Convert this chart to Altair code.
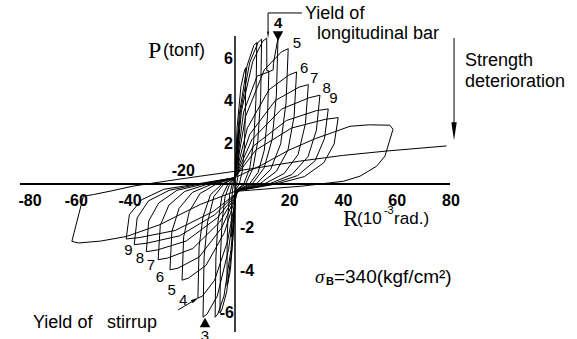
import altair as alt
import pandas as pd

# Load-deformation record: drift angle R (10^-3 rad) vs. shear force P (tonf),
# one list per cycle, each traced in loading order.
loop_01 = [(0, 0), (0.4, 1.3), (0.9, 2.2), (1.3, 2.5), (1.5, 2.6), (1.45, 1.6), (1.3, 0.9), (1.0, 0.3),
           (0.6, 0), (0.1, -0.3), (-0.3, -1.2), (-0.8, -2.1), (-1.2, -2.4), (-1.4, -2.5),
           (-1.35, -1.4), (-1.2, -0.75), (-0.9, -0.25), (-0.5, 0), (0, 0.3)]
loop_02 = [(0, 0.3), (0.8, 2.7), (2.2, 4.6), (3.5, 5.35), (4, 5.5), (3.85, 3.3), (3.45, 1.65), (2.7, 0.6),
           (1.6, 0), (0.2, -0.3), (-0.6, -2.3), (-1.7, -4.05), (-2.65, -4.7), (-3, -4.8),
           (-2.9, -2.65), (-2.6, -1.45), (-2.0, -0.5), (-1.05, 0), (0, 0.3)]
loop_03 = [(0, 0.3), (1.6, 3.3), (4.5, 5.6), (7.0, 6.55), (8.1, 6.7), (7.8, 4.0), (6.95, 2.0), (5.5, 0.75),
           (3.25, 0), (0.4, -0.3), (-1.1, -3.0), (-3.1, -5.1), (-4.9, -5.95), (-5.6, -6.1),
           (-5.4, -3.35), (-4.8, -1.75), (-3.7, -0.6), (-1.95, 0), (0, 0.3)]
loop_04 = [(0, 0.3), (2.0, 3.4), (5.5, 5.75), (8.6, 6.7), (9.9, 6.85), (9.55, 4.1), (8.5, 2.05), (6.7, 0.75),
           (3.95, 0), (0.5, -0.3), (-1.5, -3.1), (-4.1, -5.3), (-6.4, -6.15), (-7.4, -6.3),
           (-7.1, -3.45), (-6.35, -1.8), (-4.9, -0.6), (-2.6, 0), (0, 0.3)]
loop_05 = [(0, 0.3), (2.4, 3.45), (6.6, 5.8), (10.3, 6.75), (11.8, 6.9), (11.85, 5.35), (12.6, 5.35),
           (12.1, 3.2), (10.9, 1.6), (8.6, 0.55), (5.4, 0), (0.6, -0.3), (-2.4, -3.1), (-6.6, -5.3),
           (-10.4, -6.15), (-11.9, -6.3), (-11.5, -3.45), (-10.2, -1.8), (-7.9, -0.6), (-4.15, 0), (0, 0.3)]
loop_06 = [(0, 0.3), (3.2, 3.4), (8.2, 5.1), (12.5, 5.3), (14.2, 5.4), (14.3, 5.7), (16, 6.9), (15.4, 4.2),
           (13.8, 2.1), (10.8, 0.75), (6.4, 0), (0.8, -0.3), (-2.75, -2.7), (-7.6, -4.55), (-12.1, -5.3),
           (-13.8, -5.4), (-13.35, -2.95), (-11.9, -1.55), (-9.1, -0.5), (-4.8, 0), (0, 0.3)]
loop_07 = [(0, 0.3), (3.95, 3.2), (10.9, 5.4), (17.3, 6.25), (19.8, 6.4), (19.0, 3.85), (17.0, 1.9),
           (13.3, 0.7), (7.9, 0), (1.0, -0.3), (-3.95, -2.3), (-10.8, -3.85), (-17.3, -4.45),
           (-19.7, -4.55), (-19.1, -2.5), (-17.0, -1.3), (-13.0, -0.45), (-6.9, 0), (0, 0.3)]
loop_08 = [(0, 0.3), (4.6, 2.65), (12.6, 4.45), (20.0, 5.15), (22.9, 5.3), (22.0, 3.2), (19.7, 1.6),
           (15.4, 0.6), (9.15, 0), (1.2, -0.3), (-4.85, -2.05), (-13.3, -3.45), (-21.2, -3.98),
           (-24.2, -4.06), (-23.5, -2.25), (-20.8, -1.15), (-15.9, -0.4), (-8.45, 0), (0, 0.3)]
loop_09 = [(0, 0.3), (5.5, 2.35), (15.0, 3.95), (23.8, 4.58), (27.3, 4.7), (26.2, 2.85), (23.5, 1.4),
           (18.3, 0.5), (10.9, 0), (1.4, -0.3), (-5.7, -1.8), (-15.7, -3.05), (-25.0, -3.5),
           (-28.6, -3.58), (-27.8, -1.95), (-24.6, -1.0), (-18.7, -0.35), (-10.0, 0), (0, 0.3)]
loop_10 = [(0, 0.3), (6.3, 2.1), (17.4, 3.55), (27.6, 4.08), (31.6, 4.2), (30.3, 2.55), (27.2, 1.3),
           (21.2, 0.45), (12.65, 0), (1.6, -0.3), (-6.6, -1.6), (-18.2, -2.7), (-28.9, -3.12),
           (-33, -3.2), (-32.1, -1.75), (-28.4, -0.9), (-21.6, -0.3), (-11.55, 0), (0, 0.3)]
loop_11 = [(0, 0.3), (6.9, 1.8), (19.1, 3.0), (30.3, 3.47), (34.7, 3.55), (33.3, 2.15), (29.8, 1.1),
           (23.3, 0.4), (13.9, 0), (1.7, -0.3), (-7.5, -1.45), (-20.6, -2.45), (-32.8, -2.8),
           (-37.5, -2.87), (-36.4, -1.6), (-32.2, -0.8), (-24.5, -0.3), (-13.1, 0), (0, 0.3)]
loop_12 = [(0, 0.3), (7.7, 1.6), (21.1, 2.65), (33.6, 3.06), (38.4, 3.14), (36.9, 1.9), (33.0, 1.0),
           (25.8, 0.35), (15.35, 0), (1.9, -0.3), (-8.1, -1.3), (-22.3, -2.2), (-35.4, -2.53),
           (-40.5, -2.6), (-39.3, -1.45), (-34.8, -0.75), (-26.5, -0.25), (-14.2, 0), (0, 0.3)]
loop_13 = [(0, 0.3), (10, 0.9), (20, 1.6), (30, 2.15), (36.4, 2.44), (42.8, 2.73), (50, 2.8), (57.6, 2.78),
           (58.8, 2.59), (55.8, 1.32), (52.7, 0.84), (46.5, 0.37), (40.3, 0.13), (25, -0.1), (0, -0.35),
           (-13, -0.97), (-27.9, -1.92), (-40.3, -2.48), (-50, -2.7), (-58.3, -2.79), (-60.7, -2.71),
           (-56.4, -0.58), (-52.7, -0.5), (-46.5, -0.34), (-37.9, -0.1), (-25, 0.15), (-13, 0.37),
           (0, 0.6), (24, 1.08), (40, 1.35), (56.4, 1.56), (78.7, 1.8)]

loops = [loop_01, loop_02, loop_03, loop_04, loop_05, loop_06, loop_07,
         loop_08, loop_09, loop_10, loop_11, loop_12, loop_13]

# Axis tick labels
x_ticks_left = [-60, -40]
x_ticks_right = [20, 40, 60, 80]
y_ticks_up = [2, 4, 6]
y_ticks_down = [-2, -4]

# Cycle numbers beside the peaks
peak_labels_pos = {"t": ["5", "6", "7", "8", "9"],
                   "R": [23.0, 25.7, 29.5, 34.1, 36.6],
                   "P": [6.66, 5.47, 5.0, 4.53, 4.07]}
peak_labels_neg = {"t": ["9", "8", "7", "6", "5", "4", "3"],
                   "R": [-39.7, -35.35, -31.25, -27.9, -23.55, -19.24, -11.16],
                   "P": [-3.12, -3.51, -3.83, -4.38, -5.01, -5.49, -7.2]}

rows = []
for i, loop in enumerate(loops):
    for j, (r, p) in enumerate(loop):
        rows.append({"loop": i, "step": j, "R": r, "P": p})
curves = pd.DataFrame(rows)

XS = alt.Scale(domain=[-80, 80], nice=False, zero=False)
YS = alt.Scale(domain=[-7, 7], nice=False, zero=False)
SANS = "Liberation Sans, Arial, sans-serif"
SERIF = "Liberation Serif, Times New Roman, serif"


def enc(chart, text=True):
    e = dict(x=alt.X("R:Q", scale=XS, axis=None), y=alt.Y("P:Q", scale=YS, axis=None))
    if text:
        e["text"] = alt.Text("t:N")
    return chart.encode(**e)


def texts(t, r, p, **mark):
    df = pd.DataFrame({"t": t, "R": r, "P": p})
    base = dict(font=SANS, fontSize=16, color="black", baseline="middle")
    base.update(mark)
    return enc(alt.Chart(df).mark_text(**base))


def symbol(r, p, shape, size, angle=0, filled=True):
    df = pd.DataFrame({"R": [r], "P": [p]})
    return enc(alt.Chart(df).mark_point(shape=shape, size=size, angle=angle, filled=filled,
                                        color="black", opacity=1, strokeWidth=1), text=False)


def segment(r1, p1, r2, p2, w=1.0):
    df = pd.DataFrame({"R": [r1], "P": [p1], "R2": [r2], "P2": [p2]})
    return alt.Chart(df).mark_rule(color="black", strokeWidth=w).encode(
        x=alt.X("R:Q", scale=XS, axis=None), y=alt.Y("P:Q", scale=YS, axis=None),
        x2="R2:Q", y2="P2:Q")


lines = alt.Chart(curves).mark_line(color="black", strokeWidth=1, strokeJoin="round").encode(
    x=alt.X("R:Q", scale=XS, axis=None),
    y=alt.Y("P:Q", scale=YS, axis=None),
    detail="loop:N",
    order="step:Q",
)

axes = [segment(-80, 0, 80, 0, 2.0), segment(0, -7, 0, 7, 1.5)]

tick_font = dict(font=SANS, fontSize=16, fontWeight="bold")
tick_labels = [
    texts(["-80"], [-80], [0], align="center", dx=10, dy=17, **tick_font),
    texts([str(v) for v in x_ticks_left], x_ticks_left, [0] * 2, align="center", dx=2.5, dy=17, **tick_font),
    texts(["-20"], [-20], [0], align="center", dx=2, dy=-13.5, **tick_font),
    texts([str(v) for v in x_ticks_right], x_ticks_right, [0] * 4, align="center", dx=1, dy=17, **tick_font),
    texts([str(v) for v in y_ticks_up], [0] * 3, y_ticks_up, align="right", dx=-2, dy=2, **tick_font),
    texts([str(v) for v in y_ticks_down], [0] * 2, y_ticks_down, align="left", dx=5, dy=2, **tick_font),
    texts(["-6"], [0], [-6], align="right", dx=-1, dy=2, **tick_font),
]

cycle_labels = [
    texts(peak_labels_pos["t"], peak_labels_pos["R"], peak_labels_pos["P"], align="center", fontSize=15),
    texts(peak_labels_neg["t"], peak_labels_neg["R"], peak_labels_neg["P"], align="center", fontSize=15),
    texts(["4"], [16.1], [7.6], align="center", fontSize=15, fontWeight="bold"),
]

arrow_down = "M -0.3 -1 L 0.3 -1 L 0 1 Z"
tri_down = "M -1 -0.9 L 1 -0.9 L 0 0.9 Z"
tri_up = "M -1 0.9 L 1 0.9 L 0 -0.9 Z"
arrow_up = "M -0.45 1 L 0.45 1 L 0 -1 Z"

annotations = [
    # axis titles
    texts(["P"], [-32.4], [6.29], align="left", font=SERIF, fontSize=24),
    texts(["(tonf)"], [-26.8], [6.29], align="left", fontSize=18),
    texts(["R"], [40.2], [-1.66], align="left", font=SERIF, fontSize=23),
    texts(["(10"], [45.4], [-1.66], align="left", fontSize=17),
    texts(["-3"], [55.4], [-1.3], align="left", fontSize=11),
    texts(["rad.)"], [59.2], [-1.66], align="left", fontSize=17),
    # concrete strength
    texts(["σ"], [29.8], [-4.40], align="left", font=SERIF, fontSize=19, fontStyle="italic"),
    texts(["B"], [33.9], [-4.62], align="left", fontSize=11, fontWeight="bold"),
    texts(["=340(kgf/cm²)"], [36.8], [-4.40], align="left", fontSize=19),
    # yield of longitudinal bar
    texts(["Yield of"], [26.05], [8.04], align="left", fontSize=18),
    texts(["longitudinal bar"], [30.5], [7.09], align="left", fontSize=18),
    segment(12.3, 8.09, 24.9, 8.09),
    segment(12.3, 8.09, 12.3, 7.2),
    symbol(12.3, 7.05, arrow_down, 49),
    symbol(16.0, 7.0, tri_down, 110),
    # strength deterioration
    texts(["Strength"], [85.6], [5.82], align="left", fontSize=18),
    texts(["deterioration"], [85.6], [4.82], align="left", fontSize=18),
    segment(81.5, 6.9, 81.5, 2.8),
    symbol(81.5, 2.5, arrow_down, 324),
    # yield of stirrup
    texts(["Yield"], [-75.2], [-6.57], align="left", fontSize=18),
    texts(["of"], [-58.6], [-6.57], align="left", fontSize=18),
    texts(["stirrup"], [-47.6], [-6.57], align="left", fontSize=18),
    segment(-21.2, -5.96, -15.3, -5.51),
    symbol(-14.8, -5.47, arrow_up, 64, angle=59),
    symbol(-11.16, -6.55, tri_up, 110),
]

chart = alt.layer(lines, *axes, *tick_labels, *cycle_labels, *annotations).properties(
    width=430,
    height=296,
    padding={"left": 20, "top": 36, "right": 127, "bottom": 7},
    autosize=alt.AutoSizeParams(type="none"),
    background="white",
).configure_view(stroke=None)

chart.save("out.html", embed_options={"renderer": "svg", "actions": False})
